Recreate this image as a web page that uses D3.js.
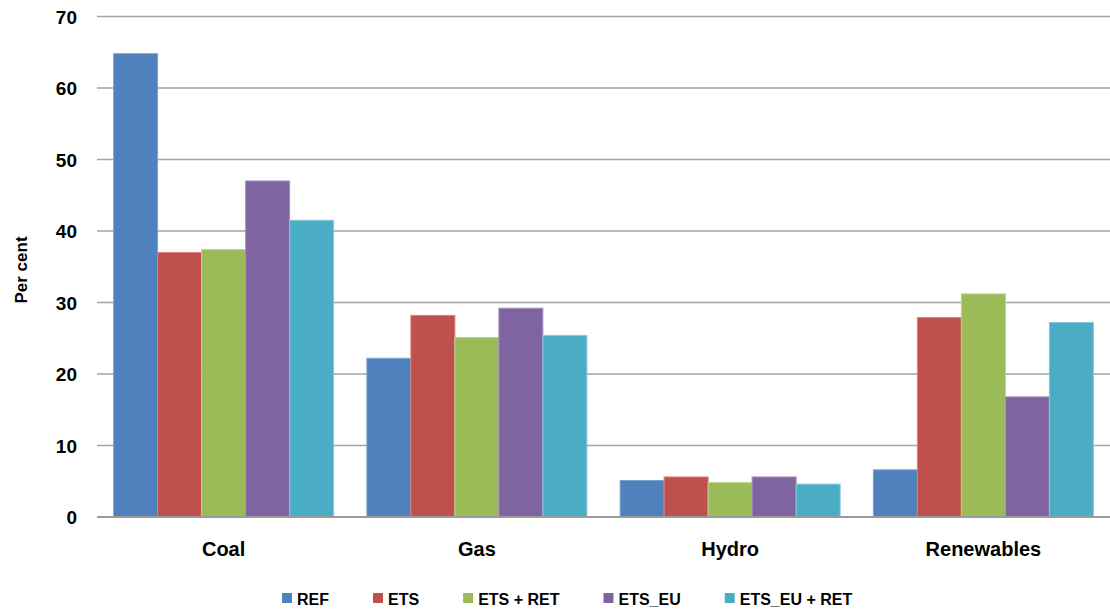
<!DOCTYPE html>
<html>
<head>
<meta charset="utf-8">
<script src="https://cdn.jsdelivr.net/npm/d3@7"></script>
<style>
  html, body { margin: 0; padding: 0; background: #fff; }
  svg { display: block; }
  text { font-family: "Liberation Sans", Arial, sans-serif; font-weight: bold; fill: #000; }
</style>
</head>
<body>
<svg id="chart" width="1110" height="611"></svg>
<script>
const categories = ["Coal", "Gas", "Hydro", "Renewables"];
const seriesNames = ["REF", "ETS", "ETS + RET", "ETS_EU", "ETS_EU + RET"];
const REF = [64.8, 22.2, 5.1, 6.6];
const ETS = [37.0, 28.2, 5.6, 27.9];
const ETS_RET = [37.4, 25.1, 4.8, 31.2];
const ETS_EU = [47.0, 29.2, 5.6, 16.8];
const ETS_EU_RET = [41.5, 25.4, 4.6, 27.2];
const seriesValues = [REF, ETS, ETS_RET, ETS_EU, ETS_EU_RET];
const yTicks = [0, 10, 20, 30, 40, 50, 60, 70];
const colors = ["#4F81BD", "#C0504D", "#9BBB59", "#8064A2", "#4BACC6"];
const strokes = ["#7FA3D1", "#D98280", "#BAD38C", "#A591C0", "#86C9DB"];

const svg = d3.select("#chart");
const plot = { left: 97, right: 1110, top: 16.5, bottom: 517 };

const y = d3.scaleLinear().domain([0, 70]).range([plot.bottom, plot.top]);
const x0 = d3.scaleBand().domain(categories).range([plot.left, plot.right]).padding(0);
const x1 = d3.scaleBand().domain(seriesNames).range([0, x0.bandwidth()]).paddingInner(0).paddingOuter(0.378);

// gridlines
svg.append("g").selectAll("line").data(yTicks).join("line")
  .attr("x1", plot.left).attr("x2", plot.right)
  .attr("y1", d => y(d)).attr("y2", d => y(d))
  .attr("stroke", "#a3a3a3").attr("stroke-width", 1.6);

// y tick labels
const yAxis = d3.axisLeft(y).tickValues(yTicks).tickSize(0).tickPadding(0);
const ga = svg.append("g").attr("transform", `translate(${plot.left - 20},0)`).call(yAxis);
ga.select(".domain").remove();
ga.selectAll("text").attr("font-size", 19).attr("font-family", "'Liberation Sans', Arial, sans-serif")
  .attr("font-weight", "bold").attr("fill", "#000").attr("dy", "0.36em");

// bars
const data = [];
categories.forEach((c, ci) => {
  seriesNames.forEach((s, si) => data.push({ c, s, si, v: seriesValues[si][ci] }));
});
svg.append("g").selectAll("rect").data(data).join("rect")
  .attr("x", d => x0(d.c) + x1(d.s))
  .attr("y", d => y(d.v))
  .attr("width", x1.bandwidth())
  .attr("height", d => y(0) - y(d.v))
  .attr("fill", d => colors[d.si])
  .attr("stroke", d => strokes[d.si])
  .attr("stroke-width", 1);

// baseline
svg.append("line").attr("x1", plot.left).attr("x2", plot.right)
  .attr("y1", y(0)).attr("y2", y(0)).attr("stroke", "#9a9a9a").attr("stroke-width", 2);

// category labels
const xAxis = d3.axisBottom(x0).tickSize(0).tickPadding(0);
const gx = svg.append("g").attr("transform", `translate(0,${plot.bottom})`).call(xAxis);
gx.select(".domain").remove();
gx.selectAll("text").attr("font-size", 20).attr("font-family", "'Liberation Sans', Arial, sans-serif")
  .attr("font-weight", "bold").attr("fill", "#000").attr("dy", null).attr("y", 39);

// y title
svg.append("text").attr("transform", "translate(27,270) rotate(-90)")
  .attr("text-anchor", "middle").attr("font-size", 17).text("Per cent");

// legend
const legend = svg.append("g").attr("transform", "translate(282,599)");
let lx = 0;
seriesNames.forEach((s, i) => {
  const g = legend.append("g").attr("transform", `translate(${lx},0)`);
  g.append("rect").attr("x", 0).attr("y", -6).attr("width", 10).attr("height", 10).attr("fill", colors[i]);
  const t = g.append("text").attr("x", 15).attr("y", 0).attr("dy", "0.36em").attr("font-size", 16).text(s);
  lx += 15 + t.node().getComputedTextLength() + 44;
});
</script>
</body>
</html>
